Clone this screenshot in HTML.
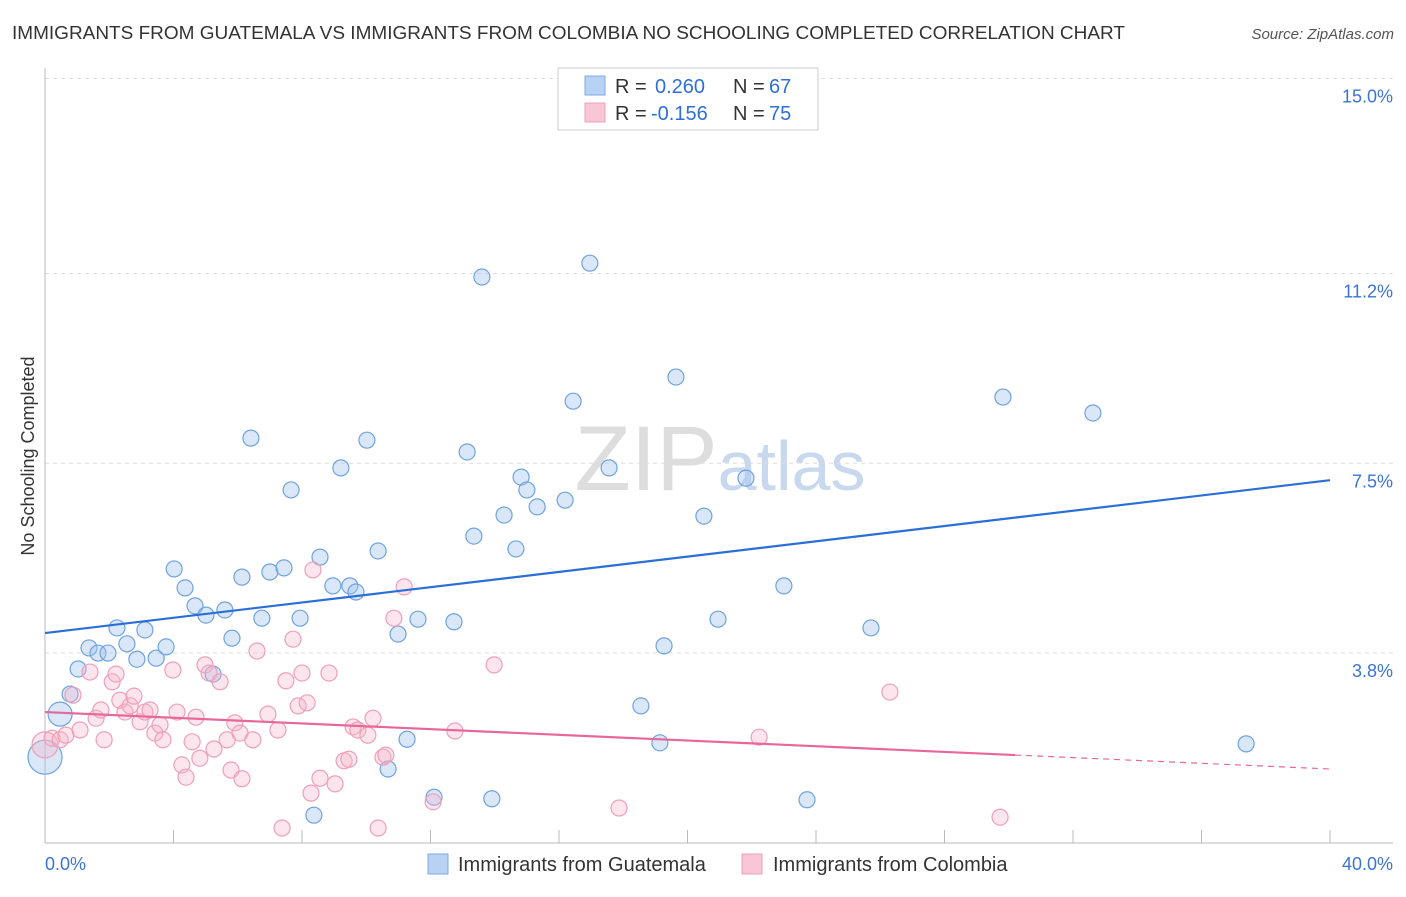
<!DOCTYPE html>
<html><head><meta charset="utf-8">
<style>
body{margin:0;background:#fff;font-family:"Liberation Sans",sans-serif;}
svg text{font-family:"Liberation Sans",sans-serif;}
</style></head>
<body>
<svg id="chart" width="1406" height="892" xmlns="http://www.w3.org/2000/svg">
<text x="12" y="39" font-size="18" fill="#333" textLength="1113" lengthAdjust="spacingAndGlyphs">IMMIGRANTS FROM GUATEMALA VS IMMIGRANTS FROM COLOMBIA NO SCHOOLING COMPLETED CORRELATION CHART</text>
<text x="1394" y="39" font-size="15" fill="#555" text-anchor="end" font-style="italic">Source: ZipAtlas.com</text>
<text transform="translate(34,456) rotate(-90)" font-size="18" fill="#333" text-anchor="middle">No Schooling Completed</text>
<text x="720" y="490" font-size="92" fill="#ddd" text-anchor="middle" font-family="Liberation Serif">ZIP<tspan fill="#c8d8ee" font-family="Liberation Sans" font-size="70">atlas</tspan></text>
<g id="grid"></g><g id="axes"></g><g id="pts"></g><g id="trend"></g>
<g>
<rect x="558" y="68" width="260" height="62" fill="#fff" stroke="#ccc"/>
<rect x="585" y="76" width="20" height="19" fill="#b8d2f4" stroke="#7ea9e0"/>
<text x="615" y="93" font-size="20" fill="#333">R =</text>
<text x="655" y="93" font-size="20" fill="#2e6fd8">0.260</text>
<text x="733" y="93" font-size="20" fill="#333">N =</text>
<text x="769" y="93" font-size="20" fill="#2e6fd8">67</text>
<rect x="585" y="103" width="20" height="19" fill="#f8c6d4" stroke="#eea0b8"/>
<text x="615" y="120" font-size="20" fill="#333">R =</text>
<text x="651" y="120" font-size="20" fill="#2e6fd8">-0.156</text>
<text x="733" y="120" font-size="20" fill="#333">N =</text>
<text x="769" y="120" font-size="20" fill="#2e6fd8">75</text>
</g>
<g>
<rect x="428" y="854" width="20" height="20" fill="#b8d2f4" stroke="#7ea9e0"/>
<text x="458" y="871" font-size="20" fill="#333">Immigrants from Guatemala</text>
<rect x="742" y="854" width="20" height="20" fill="#f8c6d4" stroke="#eea0b8"/>
<text x="773" y="871" font-size="20" fill="#333">Immigrants from Colombia</text>
</g>
</svg>
<script>
const yTicks=[15.0,11.2,7.5,3.8];
const xTickLabels=["0.0%","40.0%"];
const blueX=[0.47,0,0.78,1.03,1.37,1.65,1.96,2.24,2.55,2.86,3.11,3.46,3.77,4.02,4.36,4.67,5.01,5.23,5.60,5.82,6.13,6.41,6.75,7.00,7.44,7.66,7.94,8.37,8.56,8.96,9.21,9.49,9.68,10.02,10.37,10.68,10.99,11.27,11.61,12.11,12.73,13.14,13.35,13.60,13.91,14.29,14.66,14.82,15.00,15.32,16.19,16.44,16.96,17.56,18.55,19.14,19.27,19.64,20.51,20.95,21.82,23.00,23.72,25.71,29.82,32.62,37.39];
const blueY=[2.61,1.77,3.00,3.49,3.90,3.80,3.80,4.29,3.98,3.68,4.25,3.70,3.92,5.44,5.07,4.72,4.54,3.39,4.64,4.09,5.28,7.99,4.48,5.38,5.46,6.98,4.48,0.64,5.67,5.11,7.41,5.11,4.99,7.95,5.79,1.54,4.17,2.12,4.46,0.99,4.41,7.72,6.08,11.13,0.96,6.49,5.83,7.23,6.98,6.65,6.78,8.71,11.40,7.41,2.77,2.05,3.94,9.18,6.47,4.46,7.21,5.11,0.94,4.29,8.79,8.48,2.03];
const pinkX=[0,0.22,0.47,0.65,0.87,1.09,1.40,1.59,1.74,1.84,2.09,2.21,2.33,2.49,2.65,2.77,2.96,3.11,3.27,3.42,3.58,3.67,3.98,4.11,4.26,4.39,4.58,4.70,4.82,4.98,5.11,5.26,5.45,5.67,5.79,5.91,6.07,6.13,6.47,6.60,6.94,7.25,7.38,7.50,7.72,7.88,8.00,8.16,8.28,8.34,8.56,8.84,9.03,9.31,9.46,9.59,9.74,10.05,10.21,10.37,10.52,10.61,10.86,11.18,12.08,12.76,13.98,17.87,22.23,26.30,29.73];
const pinkY=[2.01,2.14,2.11,2.20,2.98,2.30,3.43,2.53,2.69,2.11,3.24,3.39,2.88,2.65,2.77,2.96,2.46,2.65,2.69,2.24,2.40,2.11,3.47,2.65,1.62,1.38,2.07,2.55,1.75,3.57,3.41,1.93,3.24,2.11,1.52,2.44,2.24,1.35,2.11,3.84,2.61,2.30,0.39,3.26,4.07,2.77,3.41,2.83,1.07,5.42,1.36,3.41,1.25,1.70,1.73,2.36,2.30,2.20,2.53,0.39,1.77,1.81,4.48,5.09,0.90,2.28,3.57,0.78,2.16,3.04,0.60];
const blueTrend=[4.19,7.17];
const pinkTrend=[2.65,1.54];
const pinkSolidEnd=30.2;
const NS="http://www.w3.org/2000/svg";
const xs=v=>45+v*32.125, ys=v=>848-v*51.3;
function mk(tag,attrs,parent){const e=document.createElementNS(NS,tag);for(const k in attrs)e.setAttribute(k,attrs[k]);document.getElementById(parent).appendChild(e);return e;}
yTicks.forEach(t=>{
 const l=mk('line',{x1:45,x2:1393,y1:ys(t),y2:ys(t),stroke:'#ddd','stroke-dasharray':'4,4'},'grid');
 
 
 const tx=mk('text',{x:1393,y:ys(t)+24,'font-size':18,fill:'#3a74d6','text-anchor':'end'},'grid');
 tx.textContent=t.toFixed(1)+'%';
 
 
});
const ax=mk('line',{x1:45,x2:1393,y1:843,y2:843,stroke:'#bbb'},'axes');


const ay=mk('line',{x1:45,x2:45,y1:68,y2:843,stroke:'#bbb'},'axes');


for(let i=1;i<=10;i++){const t=mk('line',{x1:xs(i*4),x2:xs(i*4),y1:830,y2:843,stroke:'#bbb'},'axes');
 
 }
[[0,'start',45],[40,'end',1393]].forEach((d,i)=>{const t=mk('text',{x:d[2],y:870,'font-size':18,fill:'#3a74d6','text-anchor':d[1]},'axes');t.textContent=xTickLabels[i];
 
 });
function pts(X,Y,fill,stroke,name){X.forEach((x,i)=>{let r=8;if(name==='guatemala-point'&&i===0)r=12;if(i===(name==='guatemala-point'?1:0))r=name==='guatemala-point'?17:13;
 const c=mk('circle',{cx:xs(x),cy:ys(Y[i]),r:r,fill:fill,stroke:stroke,'stroke-width':1.2},'pts');
 
 });}
pts(blueX,blueY,'rgba(160,196,240,0.4)','#6fa3e0','guatemala-point');
pts(pinkX,pinkY,'rgba(245,180,200,0.35)','#ef9fba','colombia-point');
const bt=mk('line',{x1:xs(0),y1:ys(blueTrend[0]),x2:xs(40),y2:ys(blueTrend[1]),stroke:'#2a6fd6','stroke-width':2.2},'trend');


const pAt=v=>pinkTrend[0]+(pinkTrend[1]-pinkTrend[0])*v/40;
const pt=mk('line',{x1:xs(0),y1:ys(pAt(0)),x2:xs(pinkSolidEnd),y2:ys(pAt(pinkSolidEnd)),stroke:'#e8679a','stroke-width':2.2},'trend');


const pd=mk('line',{x1:xs(pinkSolidEnd),y1:ys(pAt(pinkSolidEnd)),x2:xs(40),y2:ys(pAt(40)),stroke:'#e8679a','stroke-width':1.2,'stroke-dasharray':'6,5'},'trend');


</script>
</body></html>
